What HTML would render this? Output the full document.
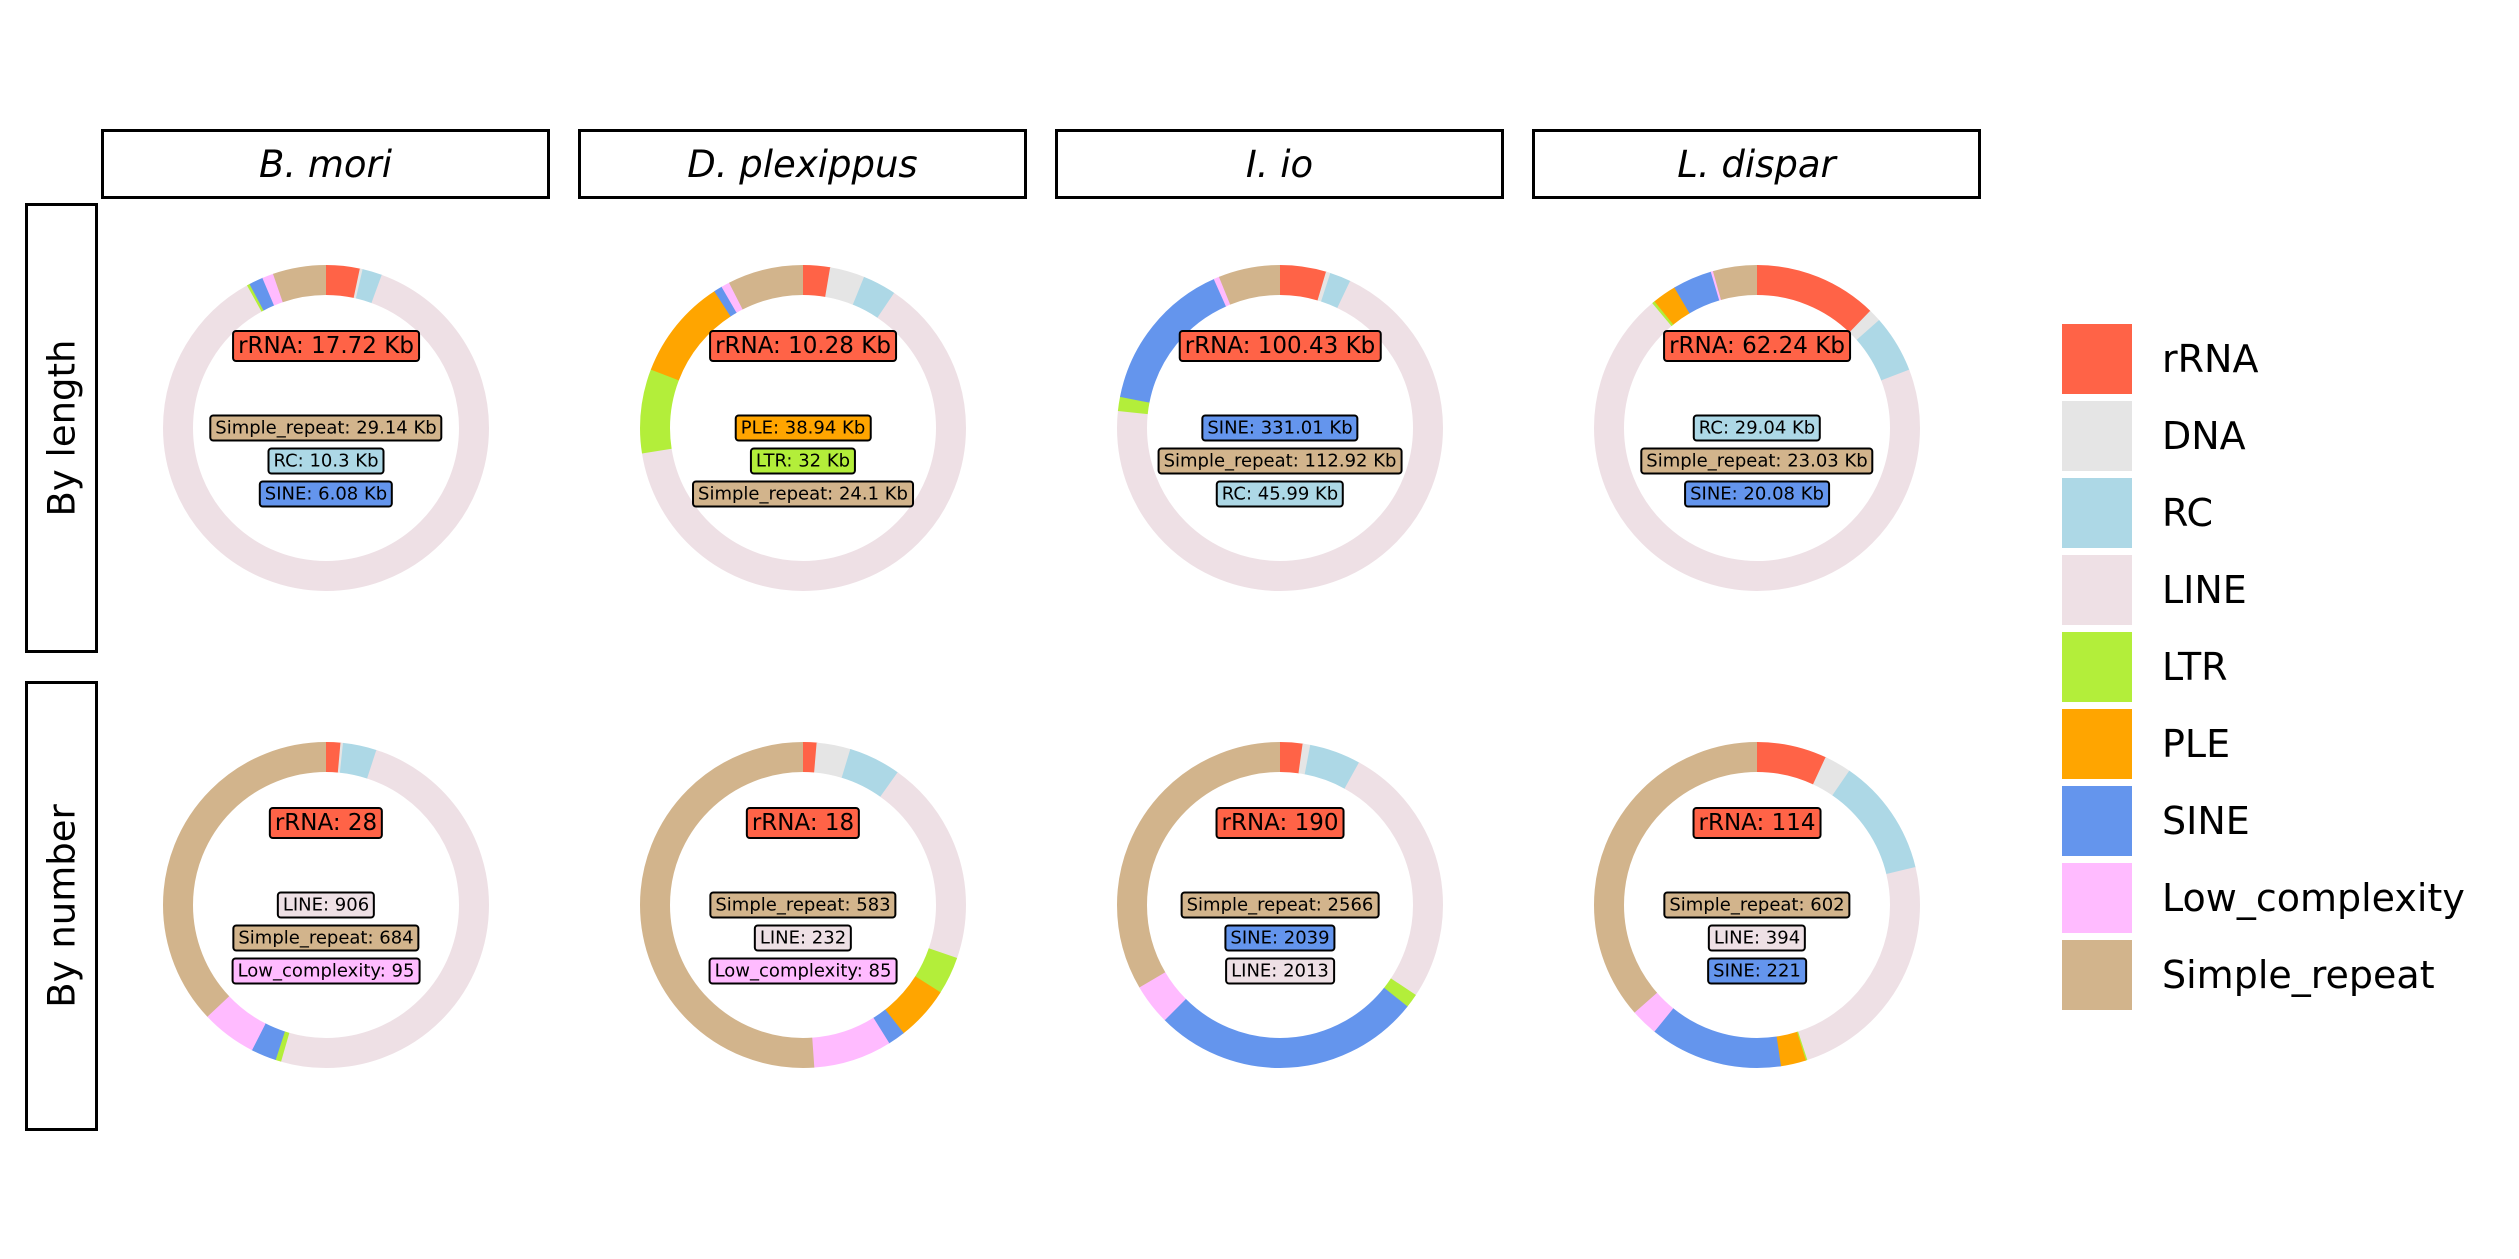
<!DOCTYPE html>
<html><head><meta charset="utf-8"><style>
body{margin:0;background:#fff;}
#w{position:relative;width:2519px;height:1259px;overflow:hidden;font-family:"DejaVu Sans","Liberation Sans",sans-serif;}
svg{position:absolute;left:0;top:0;}
circle{fill:none;stroke-width:30;}
.hb{position:absolute;box-sizing:border-box;border:3.5px solid #000;background:#fff;display:flex;align-items:center;justify-content:center;font-style:italic;font-size:37px;}
.rb{position:absolute;box-sizing:border-box;border:3.5px solid #000;background:#fff;}
.rb span{position:absolute;left:50%;top:50%;transform:translate(-50%,-50%) rotate(-90deg);white-space:nowrap;font-size:37px;}
.lb{position:absolute;transform:translate(-50%,-50%);border:2px solid #000;border-radius:4px;padding:0 4px;font-size:18px;line-height:23px;white-space:nowrap;}
.lb.big{font-size:23px;line-height:28px;}
.lp{position:absolute;left:2062px;width:70px;height:70px;}
.lt{position:absolute;left:2162px;font-size:38px;line-height:70px;white-space:nowrap;}
</style></head><body><div id="w">
<div class="hb" style="left:101px;top:129px;width:449px;height:70px">B. mori</div>
<div class="hb" style="left:578px;top:129px;width:449px;height:70px">D. plexippus</div>
<div class="hb" style="left:1055px;top:129px;width:449px;height:70px">I. io</div>
<div class="hb" style="left:1532px;top:129px;width:449px;height:70px">L. dispar</div>
<div class="rb" style="left:25px;top:203px;width:73px;height:450px"><span>By length</span></div>
<div class="rb" style="left:25px;top:681px;width:73px;height:450px"><span>By number</span></div>

<svg width="2519" height="1259">
<g transform="translate(326,428) rotate(-90)">
<circle r="148" pathLength="360" stroke="#FF6347" stroke-dasharray="12.3 400" stroke-dashoffset="0"/>
<circle r="148" pathLength="360" stroke="#E5E5E5" stroke-dasharray="1.3 400" stroke-dashoffset="-12"/>
<circle r="148" pathLength="360" stroke="#ADD8E6" stroke-dasharray="7.3 400" stroke-dashoffset="-13"/>
<circle r="148" pathLength="360" stroke="#EEE0E5" stroke-dasharray="311.3 400" stroke-dashoffset="-20"/>
<circle r="148" pathLength="360" stroke="#B3EE3A" stroke-dasharray="1.3 400" stroke-dashoffset="-331"/>
<circle r="148" pathLength="360" stroke="#6495ED" stroke-dasharray="5.3 400" stroke-dashoffset="-332"/>
<circle r="148" pathLength="360" stroke="#FFBBFF" stroke-dasharray="4.3 400" stroke-dashoffset="-337"/>
<circle r="148" pathLength="360" stroke="#D2B48C" stroke-dasharray="19 400" stroke-dashoffset="-341"/>
</g>
<g transform="translate(803,428) rotate(-90)">
<circle r="148" pathLength="360" stroke="#FF6347" stroke-dasharray="9.9 400" stroke-dashoffset="0"/>
<circle r="148" pathLength="360" stroke="#E5E5E5" stroke-dasharray="12.7 400" stroke-dashoffset="-9.6"/>
<circle r="148" pathLength="360" stroke="#ADD8E6" stroke-dasharray="12.3 400" stroke-dashoffset="-22"/>
<circle r="148" pathLength="360" stroke="#EEE0E5" stroke-dasharray="227.3 400" stroke-dashoffset="-34"/>
<circle r="148" pathLength="360" stroke="#B3EE3A" stroke-dasharray="30.3 400" stroke-dashoffset="-261"/>
<circle r="148" pathLength="360" stroke="#FFA500" stroke-dasharray="36.3 400" stroke-dashoffset="-291"/>
<circle r="148" pathLength="360" stroke="#6495ED" stroke-dasharray="3.3 400" stroke-dashoffset="-327"/>
<circle r="148" pathLength="360" stroke="#FFBBFF" stroke-dasharray="3.3 400" stroke-dashoffset="-330"/>
<circle r="148" pathLength="360" stroke="#D2B48C" stroke-dasharray="27 400" stroke-dashoffset="-333"/>
</g>
<g transform="translate(1280,428) rotate(-90)">
<circle r="148" pathLength="360" stroke="#FF6347" stroke-dasharray="16.7 400" stroke-dashoffset="0"/>
<circle r="148" pathLength="360" stroke="#E5E5E5" stroke-dasharray="1.9 400" stroke-dashoffset="-16.4"/>
<circle r="148" pathLength="360" stroke="#ADD8E6" stroke-dasharray="7.8 400" stroke-dashoffset="-18"/>
<circle r="148" pathLength="360" stroke="#EEE0E5" stroke-dasharray="250.8 400" stroke-dashoffset="-25.5"/>
<circle r="148" pathLength="360" stroke="#B3EE3A" stroke-dasharray="5.3 400" stroke-dashoffset="-276"/>
<circle r="148" pathLength="360" stroke="#6495ED" stroke-dasharray="55.3 400" stroke-dashoffset="-281"/>
<circle r="148" pathLength="360" stroke="#FFBBFF" stroke-dasharray="2.3 400" stroke-dashoffset="-336"/>
<circle r="148" pathLength="360" stroke="#D2B48C" stroke-dasharray="22 400" stroke-dashoffset="-338"/>
</g>
<g transform="translate(1757,428) rotate(-90)">
<circle r="148" pathLength="360" stroke="#FF6347" stroke-dasharray="44.3 400" stroke-dashoffset="0"/>
<circle r="148" pathLength="360" stroke="#E5E5E5" stroke-dasharray="4.8 400" stroke-dashoffset="-44"/>
<circle r="148" pathLength="360" stroke="#ADD8E6" stroke-dasharray="20.8 400" stroke-dashoffset="-48.5"/>
<circle r="148" pathLength="360" stroke="#EEE0E5" stroke-dasharray="251.3 400" stroke-dashoffset="-69"/>
<circle r="148" pathLength="360" stroke="#B3EE3A" stroke-dasharray="1.3 400" stroke-dashoffset="-320"/>
<circle r="148" pathLength="360" stroke="#FFA500" stroke-dasharray="8.8 400" stroke-dashoffset="-321"/>
<circle r="148" pathLength="360" stroke="#6495ED" stroke-dasharray="14.3 400" stroke-dashoffset="-329.5"/>
<circle r="148" pathLength="360" stroke="#FFBBFF" stroke-dasharray="1.1 400" stroke-dashoffset="-343.5"/>
<circle r="148" pathLength="360" stroke="#D2B48C" stroke-dasharray="15.7 400" stroke-dashoffset="-344.3"/>
</g>
<g transform="translate(326,905) rotate(-90)">
<circle r="148" pathLength="360" stroke="#FF6347" stroke-dasharray="5.4 400" stroke-dashoffset="0"/>
<circle r="148" pathLength="360" stroke="#E5E5E5" stroke-dasharray="1.2 400" stroke-dashoffset="-5.1"/>
<circle r="148" pathLength="360" stroke="#ADD8E6" stroke-dasharray="12.3 400" stroke-dashoffset="-6"/>
<circle r="148" pathLength="360" stroke="#EEE0E5" stroke-dasharray="178.3 400" stroke-dashoffset="-18"/>
<circle r="148" pathLength="360" stroke="#B3EE3A" stroke-dasharray="2.3 400" stroke-dashoffset="-196"/>
<circle r="148" pathLength="360" stroke="#6495ED" stroke-dasharray="9.3 400" stroke-dashoffset="-198"/>
<circle r="148" pathLength="360" stroke="#FFBBFF" stroke-dasharray="20 400" stroke-dashoffset="-207"/>
<circle r="148" pathLength="360" stroke="#D2B48C" stroke-dasharray="133.3 400" stroke-dashoffset="-226.7"/>
</g>
<g transform="translate(803,905) rotate(-90)">
<circle r="148" pathLength="360" stroke="#FF6347" stroke-dasharray="5.1 400" stroke-dashoffset="0"/>
<circle r="148" pathLength="360" stroke="#E5E5E5" stroke-dasharray="12.4 400" stroke-dashoffset="-4.8"/>
<circle r="148" pathLength="360" stroke="#ADD8E6" stroke-dasharray="18.9 400" stroke-dashoffset="-16.9"/>
<circle r="148" pathLength="360" stroke="#EEE0E5" stroke-dasharray="73.8 400" stroke-dashoffset="-35.5"/>
<circle r="148" pathLength="360" stroke="#B3EE3A" stroke-dasharray="13.7 400" stroke-dashoffset="-109"/>
<circle r="148" pathLength="360" stroke="#FFA500" stroke-dasharray="19.7 400" stroke-dashoffset="-122.4"/>
<circle r="148" pathLength="360" stroke="#6495ED" stroke-dasharray="6.5 400" stroke-dashoffset="-141.8"/>
<circle r="148" pathLength="360" stroke="#FFBBFF" stroke-dasharray="28.3 400" stroke-dashoffset="-148"/>
<circle r="148" pathLength="360" stroke="#D2B48C" stroke-dasharray="184 400" stroke-dashoffset="-176"/>
</g>
<g transform="translate(1280,905) rotate(-90)">
<circle r="148" pathLength="360" stroke="#FF6347" stroke-dasharray="8.3 400" stroke-dashoffset="0"/>
<circle r="148" pathLength="360" stroke="#E5E5E5" stroke-dasharray="3 400" stroke-dashoffset="-8"/>
<circle r="148" pathLength="360" stroke="#ADD8E6" stroke-dasharray="18.6 400" stroke-dashoffset="-10.7"/>
<circle r="148" pathLength="360" stroke="#EEE0E5" stroke-dasharray="94.8 400" stroke-dashoffset="-29"/>
<circle r="148" pathLength="360" stroke="#B3EE3A" stroke-dasharray="5.3 400" stroke-dashoffset="-123.5"/>
<circle r="148" pathLength="360" stroke="#6495ED" stroke-dasharray="96.8 400" stroke-dashoffset="-128.5"/>
<circle r="148" pathLength="360" stroke="#FFBBFF" stroke-dasharray="14.9 400" stroke-dashoffset="-225"/>
<circle r="148" pathLength="360" stroke="#D2B48C" stroke-dasharray="120.4 400" stroke-dashoffset="-239.6"/>
</g>
<g transform="translate(1757,905) rotate(-90)">
<circle r="148" pathLength="360" stroke="#FF6347" stroke-dasharray="25.2 400" stroke-dashoffset="0"/>
<circle r="148" pathLength="360" stroke="#E5E5E5" stroke-dasharray="9.9 400" stroke-dashoffset="-24.9"/>
<circle r="148" pathLength="360" stroke="#ADD8E6" stroke-dasharray="42.3 400" stroke-dashoffset="-34.5"/>
<circle r="148" pathLength="360" stroke="#EEE0E5" stroke-dasharray="85.8 400" stroke-dashoffset="-76.5"/>
<circle r="148" pathLength="360" stroke="#B3EE3A" stroke-dasharray="0.8 400" stroke-dashoffset="-162"/>
<circle r="148" pathLength="360" stroke="#FFA500" stroke-dasharray="9.3 400" stroke-dashoffset="-162.5"/>
<circle r="148" pathLength="360" stroke="#6495ED" stroke-dasharray="47.8 400" stroke-dashoffset="-171.5"/>
<circle r="148" pathLength="360" stroke="#FFBBFF" stroke-dasharray="10 400" stroke-dashoffset="-219"/>
<circle r="148" pathLength="360" stroke="#D2B48C" stroke-dasharray="131.3 400" stroke-dashoffset="-228.7"/>
</g>
</svg>

<div class="lb big" style="left:326px;top:346px;background:#FF6347">rRNA: 17.72 Kb</div>
<div class="lb" style="left:326px;top:428px;background:#D2B48C">Simple_repeat: 29.14 Kb</div>
<div class="lb" style="left:326px;top:461px;background:#ADD8E6">RC: 10.3 Kb</div>
<div class="lb" style="left:326px;top:494px;background:#6495ED">SINE: 6.08 Kb</div>

<div class="lb big" style="left:803px;top:346px;background:#FF6347">rRNA: 10.28 Kb</div>
<div class="lb" style="left:803px;top:428px;background:#FFA500">PLE: 38.94 Kb</div>
<div class="lb" style="left:803px;top:461px;background:#B3EE3A">LTR: 32 Kb</div>
<div class="lb" style="left:803px;top:494px;background:#D2B48C">Simple_repeat: 24.1 Kb</div>

<div class="lb big" style="left:1280px;top:346px;background:#FF6347">rRNA: 100.43 Kb</div>
<div class="lb" style="left:1280px;top:428px;background:#6495ED">SINE: 331.01 Kb</div>
<div class="lb" style="left:1280px;top:461px;background:#D2B48C">Simple_repeat: 112.92 Kb</div>
<div class="lb" style="left:1280px;top:494px;background:#ADD8E6">RC: 45.99 Kb</div>

<div class="lb big" style="left:1757px;top:346px;background:#FF6347">rRNA: 62.24 Kb</div>
<div class="lb" style="left:1757px;top:428px;background:#ADD8E6">RC: 29.04 Kb</div>
<div class="lb" style="left:1757px;top:461px;background:#D2B48C">Simple_repeat: 23.03 Kb</div>
<div class="lb" style="left:1757px;top:494px;background:#6495ED">SINE: 20.08 Kb</div>

<div class="lb big" style="left:326px;top:823px;background:#FF6347">rRNA: 28</div>
<div class="lb" style="left:326px;top:905px;background:#EEE0E5">LINE: 906</div>
<div class="lb" style="left:326px;top:938px;background:#D2B48C">Simple_repeat: 684</div>
<div class="lb" style="left:326px;top:971px;background:#FFBBFF">Low_complexity: 95</div>

<div class="lb big" style="left:803px;top:823px;background:#FF6347">rRNA: 18</div>
<div class="lb" style="left:803px;top:905px;background:#D2B48C">Simple_repeat: 583</div>
<div class="lb" style="left:803px;top:938px;background:#EEE0E5">LINE: 232</div>
<div class="lb" style="left:803px;top:971px;background:#FFBBFF">Low_complexity: 85</div>

<div class="lb big" style="left:1280px;top:823px;background:#FF6347">rRNA: 190</div>
<div class="lb" style="left:1280px;top:905px;background:#D2B48C">Simple_repeat: 2566</div>
<div class="lb" style="left:1280px;top:938px;background:#6495ED">SINE: 2039</div>
<div class="lb" style="left:1280px;top:971px;background:#EEE0E5">LINE: 2013</div>

<div class="lb big" style="left:1757px;top:823px;background:#FF6347">rRNA: 114</div>
<div class="lb" style="left:1757px;top:905px;background:#D2B48C">Simple_repeat: 602</div>
<div class="lb" style="left:1757px;top:938px;background:#EEE0E5">LINE: 394</div>
<div class="lb" style="left:1757px;top:971px;background:#6495ED">SINE: 221</div>

<div class="lp" style="top:324px;background:#FF6347"></div><div class="lt" style="top:324px">rRNA</div>
<div class="lp" style="top:401px;background:#E5E5E5"></div><div class="lt" style="top:401px">DNA</div>
<div class="lp" style="top:478px;background:#ADD8E6"></div><div class="lt" style="top:478px">RC</div>
<div class="lp" style="top:555px;background:#EEE0E5"></div><div class="lt" style="top:555px">LINE</div>
<div class="lp" style="top:632px;background:#B3EE3A"></div><div class="lt" style="top:632px">LTR</div>
<div class="lp" style="top:709px;background:#FFA500"></div><div class="lt" style="top:709px">PLE</div>
<div class="lp" style="top:786px;background:#6495ED"></div><div class="lt" style="top:786px">SINE</div>
<div class="lp" style="top:863px;background:#FFBBFF"></div><div class="lt" style="top:863px">Low_complexity</div>
<div class="lp" style="top:940px;background:#D2B48C"></div><div class="lt" style="top:940px">Simple_repeat</div>
</div></body></html>
